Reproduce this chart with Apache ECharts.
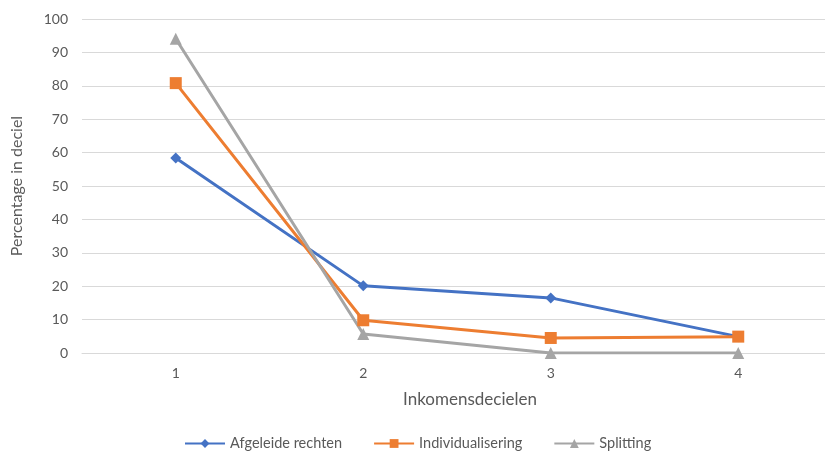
<!DOCTYPE html>
<html><head><meta charset="utf-8">
<script src="https://cdn.jsdelivr.net/npm/echarts@6/dist/echarts.min.js"></script>
<style>html,body{margin:0;padding:0;background:#fff;overflow:hidden}#c{width:845px;height:458px}</style>
</head><body><div id="c"></div>
<script>
const categories = ['1', '2', '3', '4'];
const afgeleide = [58.4, 20.1, 16.5, 4.9];
const individualisering = [80.8, 9.8, 4.5, 4.9];
const splitting = [94.1, 5.7, 0, 0];
const yTicks = [0, 10, 20, 30, 40, 50, 60, 70, 80, 90, 100];

const font = 'Lato, "DejaVu Sans", sans-serif';
const txt = '#595959';
const chart = echarts.init(document.getElementById('c'));
function mk(name, data, color, symbol, size) {
  return {
    name, type: 'line', data, symbol, symbolSize: size,
    lineStyle: { color, width: 3 },
    itemStyle: { color },
    showAllSymbol: true, animation: false
  };
}
chart.setOption({
  animation: false,
  textStyle: { fontFamily: font },
  grid: { left: 82, top: 19, width: 750, height: 334, containLabel: false },
  xAxis: {
    type: 'category', data: categories, boundaryGap: true,
    axisLine: { show: true, lineStyle: { color: '#d9d9d9', width: 1 } },
    axisTick: { show: false },
    axisLabel: { color: txt, fontSize: 14, fontFamily: font, margin: 13 },
    name: 'Inkomensdecielen', nameLocation: 'middle', nameGap: 38,
    nameTextStyle: { color: txt, fontSize: 17, fontFamily: font, padding: [0, 0, 0, 26] }
  },
  yAxis: {
    type: 'value', min: yTicks[0], max: yTicks[yTicks.length - 1], interval: 10,
    axisLine: { show: false }, axisTick: { show: false },
    splitLine: { lineStyle: { color: '#d9d9d9', width: 1 } },
    axisLabel: { color: txt, fontSize: 14, fontFamily: font, margin: 14 },
    name: 'Percentage in deciel', nameLocation: 'middle', nameGap: 57, nameRotate: 90,
    nameTextStyle: { color: txt, fontSize: 16, fontFamily: font }
  },
  legend: {
    bottom: 2, left: 179, itemWidth: 40, itemHeight: 11, itemGap: 31,
    textStyle: { color: txt, fontSize: 14.5, fontFamily: font },
    data: ['Afgeleide rechten', 'Individualisering', 'Splitting']
  },
  series: [
    mk('Afgeleide rechten', afgeleide, '#4472C4', 'diamond', 11),
    mk('Individualisering', individualisering, '#ED7D31', 'rect', 12),
    mk('Splitting', splitting, '#A5A5A5', 'triangle', 12)
  ]
});
</script></body></html>
